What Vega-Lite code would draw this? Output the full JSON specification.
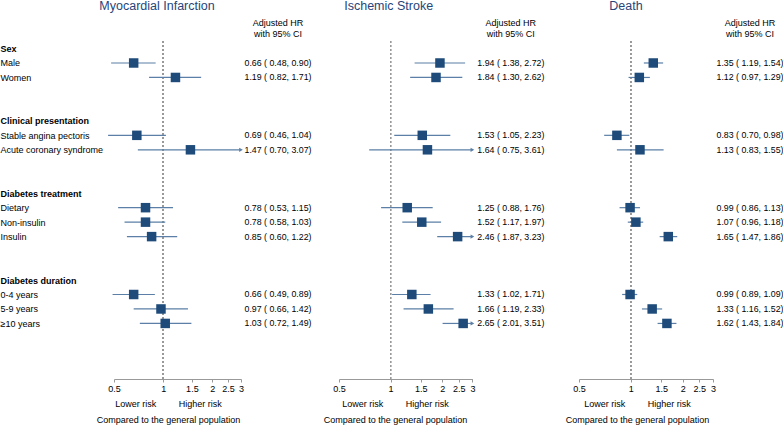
{
  "$schema": "https://vega.github.io/schema/vega-lite/v6.json",
  "padding": 0,
  "background": "white",
  "config": {
    "font": "Liberation Sans",
    "view": {"stroke": null},
    "title": {"fontSize": 12.5, "fontWeight": "normal", "color": "#27457a", "anchor": "middle", "frame": "group", "subtitleFontSize": 9, "subtitleColor": "black", "subtitleLineHeight": 11, "subtitlePadding": 6, "offset": 2}
  },
  "datasets": {
    "d": [
      {"outcome": "MI", "label": "Male", "hr": 0.66, "lo": 0.48, "hi": 0.90},
      {"outcome": "MI", "label": "Women", "hr": 1.19, "lo": 0.82, "hi": 1.71},
      {"outcome": "MI", "label": "Stable angina pectoris", "hr": 0.69, "lo": 0.46, "hi": 1.04},
      {"outcome": "MI", "label": "Acute coronary syndrome", "hr": 1.47, "lo": 0.70, "hi": 3.07},
      {"outcome": "MI", "label": "Dietary", "hr": 0.78, "lo": 0.53, "hi": 1.15},
      {"outcome": "MI", "label": "Non-insulin", "hr": 0.78, "lo": 0.58, "hi": 1.03},
      {"outcome": "MI", "label": "Insulin", "hr": 0.85, "lo": 0.60, "hi": 1.22},
      {"outcome": "MI", "label": "0-4 years", "hr": 0.66, "lo": 0.49, "hi": 0.89},
      {"outcome": "MI", "label": "5-9 years", "hr": 0.97, "lo": 0.66, "hi": 1.42},
      {"outcome": "MI", "label": "≥10 years", "hr": 1.03, "lo": 0.72, "hi": 1.49},
      {"outcome": "IS", "label": "Male", "hr": 1.94, "lo": 1.38, "hi": 2.72},
      {"outcome": "IS", "label": "Women", "hr": 1.84, "lo": 1.30, "hi": 2.62},
      {"outcome": "IS", "label": "Stable angina pectoris", "hr": 1.53, "lo": 1.05, "hi": 2.23},
      {"outcome": "IS", "label": "Acute coronary syndrome", "hr": 1.64, "lo": 0.75, "hi": 3.61},
      {"outcome": "IS", "label": "Dietary", "hr": 1.25, "lo": 0.88, "hi": 1.76},
      {"outcome": "IS", "label": "Non-insulin", "hr": 1.52, "lo": 1.17, "hi": 1.97},
      {"outcome": "IS", "label": "Insulin", "hr": 2.46, "lo": 1.87, "hi": 3.23},
      {"outcome": "IS", "label": "0-4 years", "hr": 1.33, "lo": 1.02, "hi": 1.71},
      {"outcome": "IS", "label": "5-9 years", "hr": 1.66, "lo": 1.19, "hi": 2.33},
      {"outcome": "IS", "label": "≥10 years", "hr": 2.65, "lo": 2.01, "hi": 3.51},
      {"outcome": "D", "label": "Male", "hr": 1.35, "lo": 1.19, "hi": 1.54},
      {"outcome": "D", "label": "Women", "hr": 1.12, "lo": 0.97, "hi": 1.29},
      {"outcome": "D", "label": "Stable angina pectoris", "hr": 0.83, "lo": 0.70, "hi": 0.98},
      {"outcome": "D", "label": "Acute coronary syndrome", "hr": 1.13, "lo": 0.83, "hi": 1.55},
      {"outcome": "D", "label": "Dietary", "hr": 0.99, "lo": 0.86, "hi": 1.13},
      {"outcome": "D", "label": "Non-insulin", "hr": 1.07, "lo": 0.96, "hi": 1.18},
      {"outcome": "D", "label": "Insulin", "hr": 1.65, "lo": 1.47, "hi": 1.86},
      {"outcome": "D", "label": "0-4 years", "hr": 0.99, "lo": 0.89, "hi": 1.09},
      {"outcome": "D", "label": "5-9 years", "hr": 1.33, "lo": 1.16, "hi": 1.52},
      {"outcome": "D", "label": "≥10 years", "hr": 1.62, "lo": 1.43, "hi": 1.84}
    ]
  },
  "hconcat": [
    {
      "spacing": 0,
      "hconcat": [
        {
          "width": 127, "height": 338,
          "title": {"text": "Myocardial Infarction", "subtitle": ["\u00a0", "\u00a0"], "dx": -20.5},
          "data": {"name": "d"},
          "transform": [{"filter": "datum.outcome == 'MI'"}, {"calculate": "min(datum.hi, 3)", "as": "hi_c"}],
          "layer": [
            {"mark": {"type": "rule", "strokeDash": [2, 2], "color": "#9a9a9a", "strokeWidth": 1},
             "encoding": {"x": {"datum": 1, "type": "quantitative", "scale": {"type": "log", "domain": [0.5, 3], "nice": false},
               "axis": {"values": [0.5, 1, 1.5, 2, 2.5, 3], "format": "~g", "grid": false, "domainColor": "#999", "tickColor": "#999", "tickSize": 3, "labelFontSize": 9, "labelColor": "black", "labelPadding": 2, "labelFlush": false, "labelOverlap": false, "title": ["Lower risk\u00a0\u00a0\u00a0\u00a0\u00a0\u00a0\u00a0\u00a0\u00a0Higher risk", "Compared to the general population"], "titleFontSize": 9, "titleFontWeight": "normal", "titleColor": "black", "titlePadding": 6, "titleLineHeight": 16.5, "titleX": 54}}}},
            {"mark": {"type": "rule", "color": "#5b7fa6", "strokeWidth": 1.2},
             "encoding": {
               "y": {"field": "label", "type": "nominal", "scale": {"type": "point", "domain": ["Sex", "Male", "Women", "_1", "_2", "Clinical presentation", "Stable angina pectoris", "Acute coronary syndrome", "_3", "_4", "Diabetes treatment", "Dietary", "Non-insulin", "Insulin", "_5", "_6", "Diabetes duration", "0-4 years", "5-9 years", "≥10 years", "_7", "_8", "_9"], "padding": 0.68, "align": 0.382},
                 "axis": {"title": null, "domain": false, "ticks": false, "tickSize": 0, "grid": false, "labelAlign": "left", "labelPadding": 114, "labelFontSize": 9, "labelColor": "black", "labelBound": false, "labelOverlap": false,
                   "labelExpr": "indexof(datum.value, '_') == 0 ? '' : datum.value",
                   "labelFontWeight": {"condition": {"test": "datum.value == 'Sex' || datum.value == 'Clinical presentation' || datum.value == 'Diabetes treatment' || datum.value == 'Diabetes duration'", "value": "bold"}, "value": "normal"}}},
               "x": {"field": "lo", "type": "quantitative"},
               "x2": {"field": "hi_c"}}},
            {"transform": [{"filter": "datum.hi > 3"}],
             "mark": {"type": "point", "shape": "triangle-right", "filled": true, "size": 18, "color": "#5b7fa6", "opacity": 1},
             "encoding": {"y": {"field": "label", "type": "nominal"}, "x": {"datum": 3, "type": "quantitative"}}},
            {"mark": {"type": "square", "size": 90, "color": "#1e4b7a", "opacity": 1},
             "encoding": {"y": {"field": "label", "type": "nominal"}, "x": {"field": "hr", "type": "quantitative"}}}
          ]
        },
        {
          "width": 66, "height": 338,
          "title": {"text": "\u00a0", "subtitle": ["Adjusted HR", "with 95% CI"]},
          "data": {"name": "d"},
          "transform": [{"filter": "datum.outcome == 'MI'"}, {"calculate": "format(datum.hr, '.2f') + ' ( ' + format(datum.lo, '.2f') + ', ' + format(datum.hi, '.2f') + ')'", "as": "ci"}],
          "mark": {"type": "text", "fontSize": 8.8, "color": "black"},
          "encoding": {
            "y": {"field": "label", "type": "nominal", "scale": {"type": "point", "domain": ["Sex", "Male", "Women", "_1", "_2", "Clinical presentation", "Stable angina pectoris", "Acute coronary syndrome", "_3", "_4", "Diabetes treatment", "Dietary", "Non-insulin", "Insulin", "_5", "_6", "Diabetes duration", "0-4 years", "5-9 years", "≥10 years", "_7", "_8", "_9"], "padding": 0.68, "align": 0.382}, "axis": null},
            "text": {"field": "ci"}
          }
        }
      ]
    },
    {
      "spacing": 2,
      "hconcat": [
        {
          "width": 133.4, "height": 338,
          "title": {"text": "Ischemic Stroke", "subtitle": ["\u00a0", "\u00a0"], "dx": -17},
          "data": {"name": "d"},
          "transform": [{"filter": "datum.outcome == 'IS'"}, {"calculate": "min(datum.hi, 3)", "as": "hi_c"}],
          "layer": [
            {"mark": {"type": "rule", "strokeDash": [2, 2], "color": "#9a9a9a", "strokeWidth": 1},
             "encoding": {"x": {"datum": 1, "type": "quantitative", "scale": {"type": "log", "domain": [0.5, 3], "nice": false},
               "axis": {"values": [0.5, 1, 1.5, 2, 2.5, 3], "format": "~g", "grid": false, "domainColor": "#999", "tickColor": "#999", "tickSize": 3, "labelFontSize": 9, "labelColor": "black", "labelPadding": 2, "labelFlush": false, "labelOverlap": false, "title": ["Lower risk\u00a0\u00a0\u00a0\u00a0\u00a0\u00a0\u00a0\u00a0\u00a0Higher risk", "Compared to the general population"], "titleFontSize": 9, "titleFontWeight": "normal", "titleColor": "black", "titlePadding": 6, "titleLineHeight": 16.5, "titleX": 56}}}},
            {"mark": {"type": "rule", "color": "#5b7fa6", "strokeWidth": 1.2},
             "encoding": {
               "y": {"field": "label", "type": "nominal", "scale": {"type": "point", "domain": ["Sex", "Male", "Women", "_1", "_2", "Clinical presentation", "Stable angina pectoris", "Acute coronary syndrome", "_3", "_4", "Diabetes treatment", "Dietary", "Non-insulin", "Insulin", "_5", "_6", "Diabetes duration", "0-4 years", "5-9 years", "≥10 years", "_7", "_8", "_9"], "padding": 0.68, "align": 0.382}, "axis": null},
               "x": {"field": "lo", "type": "quantitative"},
               "x2": {"field": "hi_c"}}},
            {"transform": [{"filter": "datum.hi > 3"}],
             "mark": {"type": "point", "shape": "triangle-right", "filled": true, "size": 18, "color": "#5b7fa6", "opacity": 1},
             "encoding": {"y": {"field": "label", "type": "nominal"}, "x": {"datum": 3, "type": "quantitative"}}},
            {"mark": {"type": "square", "size": 90, "color": "#1e4b7a", "opacity": 1},
             "encoding": {"y": {"field": "label", "type": "nominal"}, "x": {"field": "hr", "type": "quantitative"}}}
          ]
        },
        {
          "width": 72.3, "height": 338,
          "title": {"text": "\u00a0", "subtitle": ["Adjusted HR", "with 95% CI"], "dx": -6.3},
          "data": {"name": "d"},
          "transform": [{"filter": "datum.outcome == 'IS'"}, {"calculate": "format(datum.hr, '.2f') + ' ( ' + format(datum.lo, '.2f') + ', ' + format(datum.hi, '.2f') + ')'", "as": "ci"}],
          "mark": {"type": "text", "fontSize": 8.8, "color": "black", "dx": -6.3},
          "encoding": {
            "y": {"field": "label", "type": "nominal", "scale": {"type": "point", "domain": ["Sex", "Male", "Women", "_1", "_2", "Clinical presentation", "Stable angina pectoris", "Acute coronary syndrome", "_3", "_4", "Diabetes treatment", "Dietary", "Non-insulin", "Insulin", "_5", "_6", "Diabetes duration", "0-4 years", "5-9 years", "≥10 years", "_7", "_8", "_9"], "padding": 0.68, "align": 0.382}, "axis": null},
            "text": {"field": "ci"}
          }
        }
      ]
    },
    {
      "spacing": 0,
      "hconcat": [
        {
          "width": 134, "height": 338,
          "title": {"text": "Death", "subtitle": ["\u00a0", "\u00a0"], "dx": -20},
          "data": {"name": "d"},
          "transform": [{"filter": "datum.outcome == 'D'"}, {"calculate": "min(datum.hi, 3)", "as": "hi_c"}],
          "layer": [
            {"mark": {"type": "rule", "strokeDash": [2, 2], "color": "#9a9a9a", "strokeWidth": 1},
             "encoding": {"x": {"datum": 1, "type": "quantitative", "scale": {"type": "log", "domain": [0.5, 3], "nice": false},
               "axis": {"values": [0.5, 1, 1.5, 2, 2.5, 3], "format": "~g", "grid": false, "domainColor": "#999", "tickColor": "#999", "tickSize": 3, "labelFontSize": 9, "labelColor": "black", "labelPadding": 2, "labelFlush": false, "labelOverlap": false, "title": ["Lower risk\u00a0\u00a0\u00a0\u00a0\u00a0\u00a0\u00a0\u00a0\u00a0Higher risk", "Compared to the general population"], "titleFontSize": 9, "titleFontWeight": "normal", "titleColor": "black", "titlePadding": 6, "titleLineHeight": 16.5, "titleX": 58}}}},
            {"mark": {"type": "rule", "color": "#5b7fa6", "strokeWidth": 1.2},
             "encoding": {
               "y": {"field": "label", "type": "nominal", "scale": {"type": "point", "domain": ["Sex", "Male", "Women", "_1", "_2", "Clinical presentation", "Stable angina pectoris", "Acute coronary syndrome", "_3", "_4", "Diabetes treatment", "Dietary", "Non-insulin", "Insulin", "_5", "_6", "Diabetes duration", "0-4 years", "5-9 years", "≥10 years", "_7", "_8", "_9"], "padding": 0.68, "align": 0.382}, "axis": null},
               "x": {"field": "lo", "type": "quantitative"},
               "x2": {"field": "hi_c"}}},
            {"transform": [{"filter": "datum.hi > 3"}],
             "mark": {"type": "point", "shape": "triangle-right", "filled": true, "size": 18, "color": "#5b7fa6", "opacity": 1},
             "encoding": {"y": {"field": "label", "type": "nominal"}, "x": {"datum": 3, "type": "quantitative"}}},
            {"mark": {"type": "square", "size": 90, "color": "#1e4b7a", "opacity": 1},
             "encoding": {"y": {"field": "label", "type": "nominal"}, "x": {"field": "hr", "type": "quantitative"}}}
          ]
        },
        {
          "width": 58, "height": 338,
          "title": {"text": "\u00a0", "subtitle": ["Adjusted HR", "with 95% CI"]},
          "data": {"name": "d"},
          "transform": [{"filter": "datum.outcome == 'D'"}, {"calculate": "format(datum.hr, '.2f') + ' ( ' + format(datum.lo, '.2f') + ', ' + format(datum.hi, '.2f') + ')'", "as": "ci"}],
          "mark": {"type": "text", "fontSize": 8.8, "color": "black"},
          "encoding": {
            "y": {"field": "label", "type": "nominal", "scale": {"type": "point", "domain": ["Sex", "Male", "Women", "_1", "_2", "Clinical presentation", "Stable angina pectoris", "Acute coronary syndrome", "_3", "_4", "Diabetes treatment", "Dietary", "Non-insulin", "Insulin", "_5", "_6", "Diabetes duration", "0-4 years", "5-9 years", "≥10 years", "_7", "_8", "_9"], "padding": 0.68, "align": 0.382}, "axis": null},
            "text": {"field": "ci"}
          }
        }
      ]
    }
  ],
  "spacing": 11
}
